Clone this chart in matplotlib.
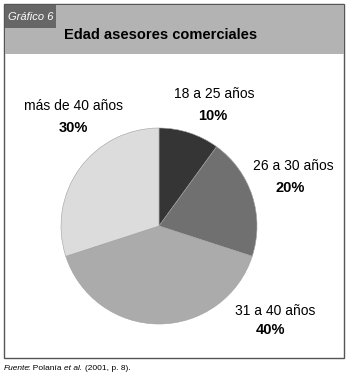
import matplotlib
matplotlib.use("Agg")
import matplotlib.pyplot as plt
from matplotlib.patches import Rectangle

categories = ["18 a 25 años", "26 a 30 años", "31 a 40 años", "más de 40 años"]
values = [10, 20, 40, 30]
pct_labels = ["10%", "20%", "40%", "30%"]
colors = ["#353535", "#707070", "#ababab", "#dcdcdc"]

W, H = 354, 380
fig = plt.figure(figsize=(W / 100, H / 100), dpi=100)
ax = fig.add_axes([0, 0, 1, 1])

def Y(y):
    return H - y

wedges, _ = ax.pie(values, colors=colors, startangle=90, counterclock=False,
                   center=(159, Y(226)), radius=98, frame=True,
                   wedgeprops=dict(edgecolor="#a0a0a0", linewidth=0.4))
ax.set_xlim(0, W)
ax.set_ylim(0, H)
ax.axis("off")

# frame
ax.add_patch(Rectangle((4, Y(358)), 340, 354, facecolor="none", edgecolor="#555555", lw=1.0, zorder=0))
# header band
ax.add_patch(Rectangle((4.5, Y(54)), 339, 49.5, facecolor="#b3b3b3", edgecolor="none"))
ax.add_patch(Rectangle((4.5, Y(28)), 51, 23.5, facecolor="#666666", edgecolor="none"))
ax.text(8, Y(20), "Gráfico 6", color="white", fontsize=8, style="italic",
        family="Liberation Sans", va="baseline", ha="left")
ax.text(64, Y(39), "Edad asesores comerciales", color="black", fontsize=10.5,
        fontweight="bold", family="Liberation Sans", va="baseline", ha="left")

label_pos = [(214, 97.5), (293, 170), (275, 315), (74, 110)]
pct_pos = [(213, 120), (290, 191.5), (271, 334), (73, 132)]
for cat, pct, (lx, ly), (px, py) in zip(categories, pct_labels, label_pos, pct_pos):
    ax.text(lx, Y(ly), cat, fontsize=10, family="Liberation Sans", ha="center", va="baseline")
    ax.text(px, Y(py), pct, fontsize=10.5, fontweight="bold", family="Liberation Sans",
            ha="center", va="baseline")

# footer, pieces placed one after another
fig.canvas.draw()
r = fig.canvas.get_renderer()
x = 4.0
parts = [("Fuente", "italic", -1.5), (": Polanía", "normal", 2.5), ("et al.", "italic", 2.0),
         ("(2001, p. 8).", "normal", 0)]
for txt, st, adj in parts:
    t = ax.text(x, Y(370), txt, fontsize=6, style=st, family="Liberation Sans", va="baseline", ha="left")
    bb = t.get_window_extent(renderer=r)
    x += bb.width + adj

fig.savefig("out.png", dpi=100)
